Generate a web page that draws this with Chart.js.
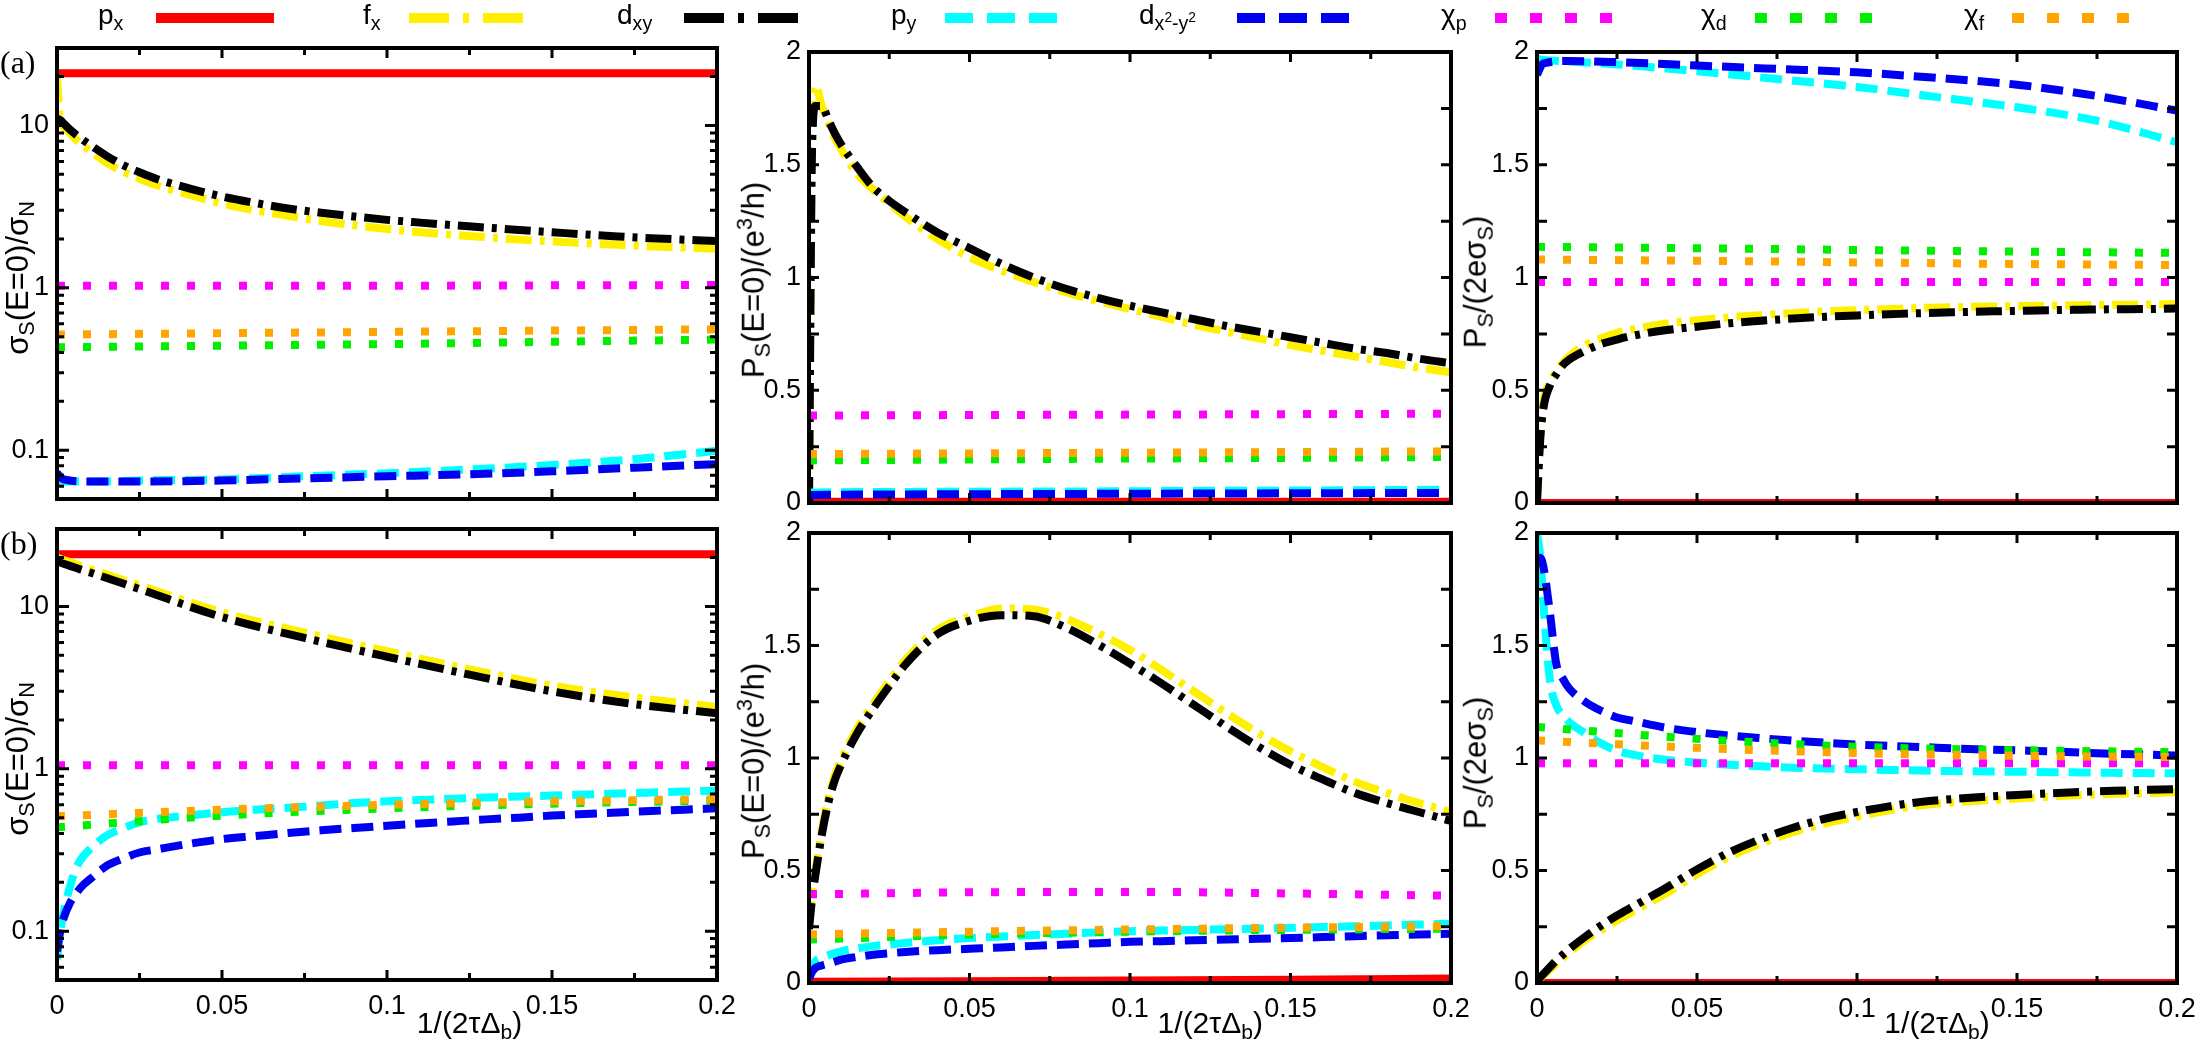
<!DOCTYPE html>
<html>
<head>
<meta charset="utf-8">
<script src="https://cdn.jsdelivr.net/npm/chart.js@4.4.1/dist/chart.umd.min.js"></script>
<style>
  body { margin: 0; width: 2202px; height: 1046px; position: relative; overflow: hidden; background: #fff;
         font-family: "Liberation Sans", Arial, sans-serif; color: #000; }
  .panel { position: absolute; }
  .lbl { position: absolute; font-size: 28px; white-space: nowrap; line-height: 1.1; }
  .ytitle { position: absolute; font-size: 31px; white-space: nowrap; transform: translate(-50%, -50%) rotate(-90deg); }
  .xtitle { position: absolute; font-size: 30px; white-space: nowrap; transform: translate(-50%, -50%); }
  .tag { position: absolute; font-family: "Liberation Serif", "Times New Roman", serif; font-size: 32px; }
  sub { font-size: 0.7em; vertical-align: -0.3em; }
  sup { font-size: 0.7em; vertical-align: 0.55em; }
  svg.sample { position: absolute; }
</style>
</head>
<body>
<script>
// x grids
const xFine = [0, 0.001, 0.002, 0.004, 0.006, 0.008, 0.01, 0.015, 0.02, 0.025, 0.03, 0.04, 0.05, 0.06,
               0.07, 0.08, 0.09, 0.1, 0.11, 0.12, 0.13, 0.14, 0.15, 0.16, 0.17, 0.18, 0.19, 0.2];
const xMid = [0, 0.002, 0.01, 0.025, 0.05, 0.075, 0.1, 0.125, 0.15, 0.175, 0.2];
const xFlat = [0, 0.05, 0.1, 0.15, 0.2];
const xTickLabels = [0, 0.05, 0.1, 0.15, 0.2];

const seriesNames = ['p<sub>x</sub>', 'f<sub>x</sub>', 'd<sub>xy</sub>', 'p<sub>y</sub>',
  'd<sub>x<sup>2</sup>-y<sup>2</sup></sub>', 'χ<sub>p</sub>', 'χ<sub>d</sub>', 'χ<sub>f</sub>'];

// (a) sigma_S(E=0)/sigma_N
const a1_px = [21, 21, 21, 21, 21];
const a1_fx = [20, 10.5, 9.8, 8.9, 8.1, 7.5, 7.0, 5.9, 5.2, 4.7, 4.3, 3.75, 3.3, 3.0, 2.78, 2.58, 2.43, 2.3,
               2.2, 2.12, 2.05, 1.98, 1.93, 1.88, 1.84, 1.8, 1.77, 1.74];
const a1_dxy = [11, 10.8, 10.3, 9.4, 8.7, 8.1, 7.6, 6.5, 5.7, 5.15, 4.7, 4.1, 3.65, 3.33, 3.08, 2.9, 2.75, 2.62,
                2.52, 2.43, 2.35, 2.27, 2.2, 2.13, 2.07, 2.02, 1.98, 1.94];
const a1_py = [0.064, 0.064, 0.064, 0.065, 0.066, 0.069, 0.072, 0.076, 0.081, 0.088, 0.099];
const a1_dx2 = [0.072, 0.066, 0.064, 0.064, 0.065, 0.067, 0.069, 0.071, 0.074, 0.078, 0.082];
const a1_chiP = [1.03, 1.03, 1.03, 1.035, 1.04];
const a1_chiD = [0.43, 0.44, 0.45, 0.465, 0.48];
const a1_chiF = [0.515, 0.525, 0.535, 0.545, 0.555];

// (a) P_S(E=0)/(e^3/h)
const a2_px = [0.005, 0.005, 0.005, 0.005, 0.005];
const a2_fx = [0, 1.8, 1.85, 1.76, 1.69, 1.62, 1.57, 1.46, 1.39, 1.33, 1.27, 1.17, 1.09, 1.03, 0.98, 0.935,
               0.895, 0.86, 0.825, 0.79, 0.76, 0.73, 0.70, 0.675, 0.65, 0.625, 0.60, 0.58];
const a2_dxy = [0, 1.6, 1.76, 1.76, 1.7, 1.64, 1.59, 1.49, 1.40, 1.34, 1.29, 1.2, 1.13, 1.06, 1.0, 0.95, 0.91,
                0.875, 0.845, 0.815, 0.785, 0.76, 0.735, 0.71, 0.685, 0.665, 0.64, 0.62];
const a2_py = [0.047, 0.047, 0.048, 0.049, 0.05, 0.051, 0.052, 0.054, 0.055, 0.057, 0.059];
const a2_dx2 = [0.036, 0.036, 0.037, 0.038, 0.039, 0.04, 0.041, 0.042, 0.043, 0.044, 0.045];
const a2_chiP = [0.388, 0.39, 0.392, 0.394, 0.396];
const a2_chiD = [0.189, 0.193, 0.197, 0.2, 0.204];
const a2_chiF = [0.217, 0.22, 0.223, 0.226, 0.229];

// (a) P_S/(2e sigma_S)
const a3_px = [0, 0, 0, 0, 0];
const a3_fx = [0, 0.3, 0.45, 0.53, 0.58, 0.62, 0.65, 0.70, 0.73, 0.755, 0.77, 0.795, 0.81, 0.823, 0.833, 0.842,
               0.85, 0.855, 0.86, 0.865, 0.868, 0.871, 0.873, 0.875, 0.877, 0.879, 0.88, 0.882];
const a3_dxy = [0, 0.28, 0.42, 0.52, 0.57, 0.61, 0.635, 0.675, 0.705, 0.725, 0.742, 0.766, 0.782, 0.797, 0.808,
                0.818, 0.826, 0.832, 0.837, 0.842, 0.846, 0.849, 0.852, 0.855, 0.857, 0.859, 0.86, 0.862];
const a3_py = [1.97, 1.965, 1.958, 1.945, 1.915, 1.88, 1.845, 1.80, 1.755, 1.695, 1.60];
const a3_dx2 = [1.90, 1.95, 1.96, 1.955, 1.94, 1.925, 1.91, 1.885, 1.855, 1.805, 1.74];
const a3_chiP = [0.98, 0.98, 0.98, 0.98, 0.98];
const a3_chiD = [1.136, 1.13, 1.122, 1.115, 1.109];
const a3_chiF = [1.08, 1.074, 1.067, 1.06, 1.055];

// (b) sigma_S(E=0)/sigma_N
const b1_px = [21, 21, 21, 21, 21];
const b1_fx = [20, 19.3, 17, 13.5, 9.2, 6.9, 5.3, 4.1, 3.25, 2.75, 2.4];
const b1_dxy = [19, 18.3, 16.2, 12.8, 8.6, 6.4, 4.9, 3.8, 3.0, 2.5, 2.2];
const b1_py = [0.067, 0.1, 0.13, 0.19, 0.25, 0.29, 0.32, 0.387, 0.43, 0.468, 0.49, 0.515, 0.54, 0.56, 0.575,
               0.595, 0.615, 0.63, 0.642, 0.655, 0.665, 0.675, 0.684, 0.694, 0.704, 0.714, 0.724, 0.734];
const b1_dx2 = [0.075, 0.1, 0.12, 0.15, 0.173, 0.193, 0.209, 0.252, 0.28, 0.305, 0.318, 0.345, 0.369, 0.385,
                0.402, 0.418, 0.432, 0.446, 0.46, 0.474, 0.488, 0.5, 0.515, 0.527, 0.538, 0.55, 0.56, 0.571];
const b1_chiP = [1.05, 1.05, 1.05, 1.05, 1.05];
const b1_chiD = [0.436, 0.515, 0.571, 0.61, 0.637];
const b1_chiF = [0.51, 0.56, 0.6, 0.63, 0.65];

// (b) P_S(E=0)/(e^3/h)
const b2_px = [0.005, 0.008, 0.011, 0.015, 0.02];
const b2_fx = [0.25, 0.4, 0.5, 0.68, 0.82, 0.92, 0.99, 1.13, 1.24, 1.34, 1.435, 1.569, 1.628, 1.665, 1.66, 1.62,
               1.555, 1.48, 1.39, 1.295, 1.2, 1.11, 1.03, 0.96, 0.895, 0.845, 0.8, 0.76];
const b2_dxy = [0.24, 0.38, 0.48, 0.66, 0.8, 0.9, 0.97, 1.11, 1.22, 1.32, 1.415, 1.55, 1.61, 1.635, 1.63, 1.58,
                1.505, 1.42, 1.33, 1.235, 1.14, 1.05, 0.97, 0.905, 0.845, 0.8, 0.76, 0.72];
const b2_py = [0.02, 0.07, 0.097, 0.113, 0.123, 0.133, 0.141, 0.154, 0.164, 0.171, 0.178, 0.19, 0.2, 0.207,
               0.213, 0.219, 0.225, 0.23, 0.233, 0.236, 0.239, 0.242, 0.245, 0.249, 0.252, 0.256, 0.26, 0.263];
const b2_dx2 = [0.02, 0.05, 0.067, 0.078, 0.086, 0.095, 0.104, 0.116, 0.126, 0.132, 0.138, 0.146, 0.152, 0.158,
                0.165, 0.171, 0.177, 0.183, 0.186, 0.19, 0.193, 0.197, 0.2, 0.204, 0.208, 0.212, 0.216, 0.219];
const b2_chiP = [0.394, 0.403, 0.405, 0.398, 0.388];
const b2_chiD = [0.193, 0.215, 0.228, 0.236, 0.242];
const b2_chiF = [0.216, 0.228, 0.238, 0.246, 0.253];

// (b) P_S/(2e sigma_S)
const b3_px = [0, 0, 0, 0, 0];
const b3_fx = [0.01, 0.02, 0.035, 0.06, 0.085, 0.11, 0.135, 0.19, 0.235, 0.278, 0.318, 0.395, 0.483, 0.56, 0.62,
               0.67, 0.71, 0.74, 0.767, 0.79, 0.803, 0.812, 0.82, 0.828, 0.835, 0.84, 0.844, 0.848];
const b3_dxy = [0.01, 0.025, 0.04, 0.07, 0.1, 0.125, 0.15, 0.205, 0.255, 0.3, 0.34, 0.42, 0.505, 0.58, 0.64,
                0.69, 0.73, 0.76, 0.785, 0.805, 0.818, 0.828, 0.836, 0.843, 0.849, 0.854, 0.858, 0.862];
const b3_py = [2.0, 1.9, 1.69, 1.35, 1.235, 1.19, 1.16, 1.11, 1.065, 1.033, 1.015, 0.992, 0.98, 0.97, 0.963,
               0.957, 0.953, 0.95, 0.947, 0.944, 0.942, 0.94, 0.939, 0.937, 0.936, 0.934, 0.933, 0.932];
const b3_dx2 = [1.87, 1.89, 1.85, 1.65, 1.42, 1.355, 1.31, 1.25, 1.21, 1.18, 1.165, 1.135, 1.115, 1.1, 1.088,
                1.077, 1.068, 1.06, 1.054, 1.049, 1.043, 1.038, 1.034, 1.03, 1.024, 1.019, 1.015, 1.011];
const b3_chiP = [0.977, 0.977, 0.977, 0.977, 0.977];
const b3_chiD = [1.138, 1.085, 1.05, 1.035, 1.026];
const b3_chiF = [1.078, 1.045, 1.022, 1.01, 1.004];

// line styles in legend order
const DASHDOT = [26, 8, 5, 8], DASH = [22, 10], DOT = [8, 18];
const styles = [
  { color: '#ff0000', dash: [] },
  { color: '#fff000', dash: DASHDOT },
  { color: '#000000', dash: DASHDOT },
  { color: '#00ffff', dash: DASH },
  { color: '#0000f0', dash: DASH },
  { color: '#ff00ff', dash: DOT },
  { color: '#00ee00', dash: DOT },
  { color: '#ffa500', dash: DOT },
];

const logTicks = [0.1, 1, 10];
const linTicks = [0, 0.5, 1, 1.5, 2];

const panels = [
  { rect: [57, 48, 717, 499], log: true, xLabels: false,
    data: [[xFlat, a1_px], [xFine, a1_fx], [xFine, a1_dxy], [xMid, a1_py], [xMid, a1_dx2], [xFlat, a1_chiP], [xFlat, a1_chiD], [xFlat, a1_chiF]] },
  { rect: [809, 52, 1451, 503], log: false, xLabels: false,
    data: [[xFlat, a2_px], [xFine, a2_fx], [xFine, a2_dxy], [xMid, a2_py], [xMid, a2_dx2], [xFlat, a2_chiP], [xFlat, a2_chiD], [xFlat, a2_chiF]] },
  { rect: [1537, 52, 2177, 503], log: false, xLabels: false,
    data: [[xFlat, a3_px], [xFine, a3_fx], [xFine, a3_dxy], [xMid, a3_py], [xMid, a3_dx2], [xFlat, a3_chiP], [xFlat, a3_chiD], [xFlat, a3_chiF]] },
  { rect: [57, 529, 717, 980], log: true, xLabels: true,
    data: [[xFlat, b1_px], [xMid, b1_fx], [xMid, b1_dxy], [xFine, b1_py], [xFine, b1_dx2], [xFlat, b1_chiP], [xFlat, b1_chiD], [xFlat, b1_chiF]] },
  { rect: [809, 533, 1451, 983], log: false, xLabels: true,
    data: [[xFlat, b2_px], [xFine, b2_fx], [xFine, b2_dxy], [xFine, b2_py], [xFine, b2_dx2], [xFlat, b2_chiP], [xFlat, b2_chiD], [xFlat, b2_chiF]] },
  { rect: [1537, 533, 2177, 983], log: false, xLabels: true,
    data: [[xFlat, b3_px], [xFine, b3_fx], [xFine, b3_dxy], [xFine, b3_py], [xFine, b3_dx2], [xFlat, b3_chiP], [xFlat, b3_chiD], [xFlat, b3_chiF]] },
];

// frame and inward ticks on all four sides
const frame = {
  id: 'frame',
  afterDatasetsDraw(chart, args, opts) {
    const { ctx, chartArea: a, scales: { x, y } } = chart;
    ctx.save();
    ctx.strokeStyle = '#000';
    ctx.lineWidth = 3;
    ctx.beginPath();
    for (let i = 1; i < 8; i++) {
      const px = x.getPixelForValue(i * 0.025), len = i % 2 ? 7 : 10;
      ctx.moveTo(px, a.bottom); ctx.lineTo(px, a.bottom - len);
      ctx.moveTo(px, a.top); ctx.lineTo(px, a.top + len);
    }
    opts.yTicks.forEach(([v, len]) => {
      const py = y.getPixelForValue(v);
      ctx.moveTo(a.left, py); ctx.lineTo(a.left + len, py);
      ctx.moveTo(a.right, py); ctx.lineTo(a.right - len, py);
    });
    ctx.stroke();
    ctx.lineWidth = 4;
    ctx.strokeRect(a.left, a.top, a.right - a.left, a.bottom - a.top);
    ctx.restore();
  }
};

function yTickMarks(log) {
  const out = [];
  if (log) {
    [0.01, 0.1, 1, 10].forEach(d => {
      for (let m = 1; m < 10; m++) {
        const v = d * m;
        if (v > 0.0499 && v < 30.01) out.push([v, m === 1 ? 12 : 7]);
      }
    });
  } else {
    for (let i = 1; i < 8; i++) out.push([i * 0.25, 10]);
  }
  return out;
}

const tickFont = { family: 'Liberation Sans', size: 27 };

panels.forEach(p => {
  const [L, T, R, B] = p.rect;
  const box = document.createElement('div');
  box.className = 'panel';
  Object.assign(box.style, { left: (L - 70) + 'px', top: (T - 20) + 'px', width: (R - L + 100) + 'px', height: (B - T + 75) + 'px' });
  const cv = document.createElement('canvas');
  box.appendChild(cv);
  document.body.appendChild(box);

  const datasets = p.data.map(([xs, ys], i) => ({
    data: xs.map((x, k) => ({ x, y: ys[k] })),
    borderColor: styles[i].color,
    borderDash: styles[i].dash,
    borderWidth: 8,
    borderCapStyle: 'butt',
    pointRadius: 0,
    fill: false,
    cubicInterpolationMode: 'monotone',
    order: -i,
  }));

  new Chart(cv, {
    type: 'line',
    data: { datasets },
    plugins: [frame],
    options: {
      responsive: true,
      maintainAspectRatio: false,
      animation: false,
      layout: { padding: { left: 0, top: 20, right: 30, bottom: 0 } },
      plugins: { legend: { display: false }, tooltip: { enabled: false }, frame: { yTicks: yTickMarks(p.log) } },
      scales: {
        x: {
          type: 'linear', min: 0, max: 0.2,
          grid: { display: false, drawTicks: false },
          border: { display: false },
          afterBuildTicks: s => { s.ticks = xTickLabels.map(v => ({ value: v })); },
          afterFit: s => { s.height = 55; s.paddingLeft = 0; s.paddingRight = 0; },
          ticks: { display: p.xLabels, autoSkip: false, maxRotation: 0, padding: 10, color: '#000', font: tickFont,
                   callback: v => String(v) },
        },
        y: {
          type: p.log ? 'logarithmic' : 'linear',
          min: p.log ? 0.05 : 0, max: p.log ? 30 : 2,
          grid: { display: false, drawTicks: false },
          border: { display: false },
          afterBuildTicks: s => { s.ticks = (p.log ? logTicks : linTicks).map(v => ({ value: v })); },
          afterFit: s => { s.width = 70; s.paddingTop = 0; s.paddingBottom = 0; },
          ticks: { autoSkip: false, padding: 8, color: '#000', font: tickFont, callback: v => String(v) },
        },
      },
    },
  });
});

// text overlays
function addText(cls, html, x, y) {
  const d = document.createElement('div');
  d.className = cls;
  d.innerHTML = html;
  d.style.left = x + 'px';
  d.style.top = y + 'px';
  document.body.appendChild(d);
  return d;
}

const legendLabelX = [98, 363, 617, 891, 1139, 1441, 1701, 1964];
const legendSampleX = [156, 409, 684, 945, 1237, 1495, 1755, 2012];
seriesNames.forEach((name, i) => {
  addText('lbl', name, legendLabelX[i], 0);
  const s = styles[i];
  const dash = s.dash === DASHDOT ? '40 14 6 14' : s.dash === DASH ? '28 14' : s.dash === DOT ? '12 23' : 'none';
  const svg = document.createElementNS('http://www.w3.org/2000/svg', 'svg');
  svg.setAttribute('class', 'sample');
  svg.setAttribute('width', 118);
  svg.setAttribute('height', 20);
  svg.style.left = legendSampleX[i] + 'px';
  svg.style.top = '8px';
  svg.innerHTML = `<line x1="0" y1="10" x2="118" y2="10" stroke="${s.color}" stroke-width="10" stroke-dasharray="${dash}"/>`;
  document.body.appendChild(svg);
});

const yTitles = [
  'σ<sub>S</sub>(E=0)/σ<sub>N</sub>',
  'P<sub>S</sub>(E=0)/(e<sup>3</sup>/h)',
  'P<sub>S</sub>/(2eσ<sub>S</sub>)',
];
[[20, 278], [754, 280], [1478, 282]].forEach(([x, y], i) => {
  addText('ytitle', yTitles[i], x, y);
  addText('ytitle', yTitles[i], x, y + 481);
});

panels.slice(3).forEach(p => {
  const [L, , R] = p.rect;
  addText('xtitle', '1/(2τΔ<sub>b</sub>)', L + 0.625 * (R - L), 1025);
});

addText('tag', '(a)', 0, 44);
addText('tag', '(b)', 0, 525);
</script>
</body>
</html>
